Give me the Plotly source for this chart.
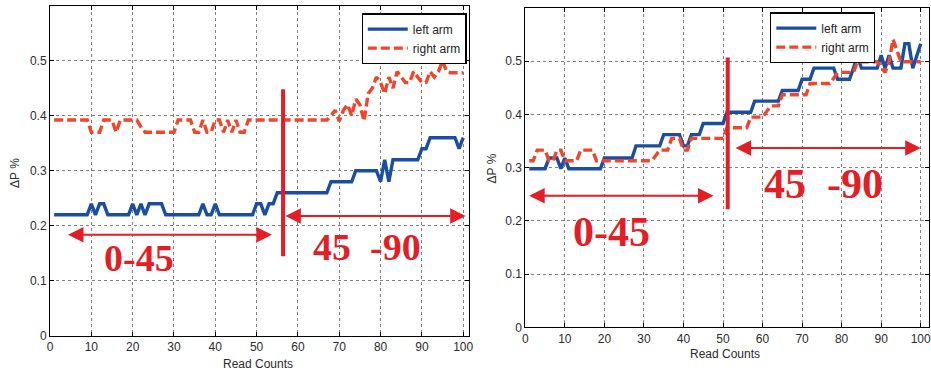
import plotly.graph_objects as go

# ---------------- data ----------------
read_counts = list(range(1, 101))

# left chart
left_arm_L = ([0.22]*9 + [0.24, 0.22, 0.24, 0.24] + [0.22]*6 +
              [0.24, 0.22, 0.24, 0.22, 0.24, 0.24, 0.24, 0.24] + [0.22]*9 +
              [0.24, 0.22, 0.22, 0.24] + [0.22]*9 +
              [0.24, 0.24, 0.22, 0.24, 0.24] + [0.26]*13 + [0.28]*6 + [0.30]*6 +
              [0.28, 0.32, 0.28] + [0.32]*7 + [0.34, 0.34] + [0.36]*7 + [0.34, 0.36])
right_arm_L = ([0.392]*9 + [0.37, 0.37, 0.37, 0.392, 0.392, 0.392, 0.37, 0.392] +
               [0.392]*4 + [0.38] + [0.37]*8 + [0.392]*4 +
               [0.37, 0.37, 0.392, 0.37, 0.37, 0.392, 0.392, 0.37, 0.392, 0.37, 0.392, 0.37, 0.37, 0.392] +
               [0.392]*19 +
               [0.40, 0.41, 0.39, 0.41, 0.42, 0.40, 0.43, 0.42, 0.39, 0.44, 0.45, 0.47, 0.46, 0.44,
                0.47, 0.45, 0.48, 0.47, 0.46, 0.46, 0.48, 0.47, 0.46, 0.46, 0.48, 0.47, 0.48, 0.50, 0.48] +
               [0.478]*4)

# right chart
left_arm_R = ([0.298]*5 + [0.318]*3 + [0.298, 0.318] + [0.298]*9 + [0.318]*8 + [0.341]*7 +
              [0.362]*5 + [0.341, 0.341] + [0.362]*3 + [0.383]*6 + [0.404]*7 + [0.425]*7 +
              [0.445]*5 + [0.466]*3 + [0.487]*6 + [0.466]*4 +
              [0.487, 0.511] + [0.487]*5 + [0.511, 0.487, 0.511] + [0.487]*3 +
              [0.533, 0.533, 0.487, 0.511, 0.533])
right_arm_R = ([0.313]*2 + [0.333]*3 + [0.313]*2 + [0.333]*2 + [0.313]*4 + [0.333]*4 +
               [0.313]*15 + [0.323] + [0.333]*3 + [0.355]*3 + [0.333]*2 + [0.355]*9 +
               [0.375]*6 + [0.395]*4 + [0.405] + [0.416]*3 + [0.437]*7 + [0.458]*6 + [0.468] +
               [0.479]*5 + [0.499]*6 + [0.489, 0.479, 0.499, 0.541, 0.52] + [0.499]*6)

x_ticks = [0, 10, 20, 30, 40, 50, 60, 70, 80, 90, 100]
y_ticks = [0, 0.1, 0.2, 0.3, 0.4, 0.5]
y_tick_text = ["0", "0.1", "0.2", "0.3", "0.4", "0.5"]

series_names = ["left arm", "right arm"]
range_labels = ["0-45", "45  -90"]

# annotation geometry (data coords) per panel
divider = {"L": (56.4, 0.145, 0.448), "R": (51.2, 0.222, 0.507)}
arrow1 = {"L": (4.0, 53.7, 0.184), "R": (0.6, 47.6, 0.247)}
arrow2 = {"L": (56.6, 100.6, 0.218), "R": (52.8, 100.0, 0.337)}
label1 = {"L": (21.6, 0.141, 38), "R": (21.7, 0.179, 42)}
label2 = {"L": (76.8, 0.162, 38), "R": (75.4, 0.269, 42)}

BLUE = "#1b4ea0"
ORANGE = "#f0462c"
RED = "#e41e26"

W, H = 931, 373
fig = go.Figure()

fig.add_trace(go.Scatter(x=read_counts, y=left_arm_L, mode="lines", name=series_names[0],
                         line=dict(color=BLUE, width=3.4), xaxis="x", yaxis="y", legend="legend"))
fig.add_trace(go.Scatter(x=read_counts, y=right_arm_L, mode="lines", name=series_names[1],
                         line=dict(color=ORANGE, width=3.4, dash="9px,4px"), xaxis="x", yaxis="y", legend="legend"))
fig.add_trace(go.Scatter(x=read_counts, y=left_arm_R, mode="lines", name=series_names[0],
                         line=dict(color=BLUE, width=3.4), xaxis="x2", yaxis="y2", legend="legend2"))
fig.add_trace(go.Scatter(x=read_counts, y=right_arm_R, mode="lines", name=series_names[1],
                         line=dict(color=ORANGE, width=3.4, dash="9px,4px"), xaxis="x2", yaxis="y2", legend="legend2"))

axis_common = dict(showline=True, linecolor="black", linewidth=1, mirror="ticks",
                   ticks="inside", ticklen=4, tickcolor="black",
                   showgrid=True, gridcolor="#808080", griddash="dot", gridwidth=1,
                   zeroline=False, automargin=False, ticklabeloverflow="allow",
                   tickfont=dict(family="Liberation Sans, Arial", size=12, color="#2b2b2b"))

L_px = (50, 469, 5.5, 336)
R_px = (525.3, 929, 8, 327.3)

def dom(px):
    x0, x1, yt, yb = px
    return [x0 / W, x1 / W], [(H - yb) / H, (H - yt) / H]

xdL, ydL = dom(L_px)
xdR, ydR = dom(R_px)

fig.update_layout(
    width=W, height=H, margin=dict(l=0, r=0, t=0, b=0, autoexpand=False),
    paper_bgcolor="white", plot_bgcolor="white",
    xaxis=dict(domain=xdL, range=[0, 101.4], tickvals=x_ticks, anchor="y", **axis_common),
    yaxis=dict(domain=ydL, range=[0, 0.6], tickvals=y_ticks, ticktext=y_tick_text, anchor="x", **axis_common),
    xaxis2=dict(domain=xdR, range=[0, 102.1], tickvals=x_ticks, anchor="y2", **axis_common),
    yaxis2=dict(domain=ydR, range=[0, 0.6], tickvals=y_ticks, ticktext=y_tick_text, anchor="x2", **axis_common),
    legend=dict(x=466.5 / W, y=1 - 13.3 / H, xanchor="right", yanchor="top",
                bgcolor="white", bordercolor="black", borderwidth=1.3,
                font=dict(family="Liberation Sans, Arial", size=12, color="#222"),
                itemwidth=40, tracegroupgap=0),
    legend2=dict(x=875 / W, y=1 - 12.3 / H, xanchor="right", yanchor="top",
                 bgcolor="white", bordercolor="black", borderwidth=1.3,
                 font=dict(family="Liberation Sans, Arial", size=12, color="#222"),
                 itemwidth=40, tracegroupgap=0),
    showlegend=True,
)

annotations = []
shapes = []
for key, xr, yr in (("L", "x", "y"), ("R", "x2", "y2")):
    xv, y0, y1 = divider[key]
    shapes.append(dict(type="line", xref=xr, yref=yr, x0=xv, x1=xv, y0=y0, y1=y1,
                       line=dict(color=RED, width=4)))
    for (xa, xb, yv) in (arrow1[key], arrow2[key]):
        annotations.append(dict(xref=xr, yref=yr, axref=xr, ayref=yr, x=xb, y=yv, ax=xa, ay=yv,
                                text="", showarrow=True, arrowside="end+start", arrowhead=2,
                                arrowsize=1.55, arrowwidth=2, arrowcolor=RED))
    for (xv2, yv2, fs), txt in ((label1[key], range_labels[0]), (label2[key], range_labels[1])):
        annotations.append(dict(xref=xr, yref=yr, x=xv2, y=yv2, text=txt, showarrow=False,
                                xanchor="center", yanchor="middle",
                                font=dict(family="Liberation Serif, Times New Roman", size=fs,
                                          color=RED, weight="bold")))

# axis titles
title_font = dict(family="Liberation Sans, Arial", size=12, color="#2b2b2b")
ttl = dict(xref="paper", yref="paper", showarrow=False, xanchor="center", yanchor="middle", font=title_font)
annotations += [
    dict(x=258 / W, y=1 - 364 / H, text="Read Counts", **ttl),
    dict(x=725 / W, y=1 - 353.5 / H, text="Read Counts", **ttl),
    dict(x=15 / W, y=1 - 173 / H, text="ΔP %", textangle=-90, **ttl),
    dict(x=491.5 / W, y=1 - 168 / H, text="ΔP %", textangle=-90, **ttl),
]

fig.update_layout(annotations=annotations, shapes=shapes)
fig.write_html("out.html", config={"displayModeBar": False},
               post_script="document.body.style.margin='0';document.body.style.overflow='hidden';")
